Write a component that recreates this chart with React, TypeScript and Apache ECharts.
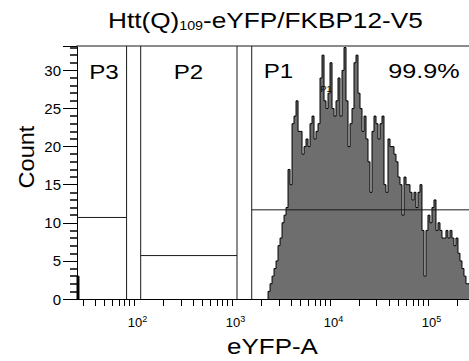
import React, { useEffect, useRef } from "react";
import * as echarts from "echarts";

const FONT = "'Liberation Sans', Arial, Helvetica, sans-serif";

// Texts
const titleMain = "Htt(Q)";
const titleSub = "109";
const titleRest = "-eYFP/FKBP12-V5";
const xName = "eYFP-A";
const yName = "Count";

// Axis ranges (eYFP-A shown on a log10 scale)
const xMinValue = 26.2;
const xMaxValue = 262144;
const yMax = 33.2;
const yMajorStep = 5;
const yMinorSplits = 5;
const xLabelDecades = [2, 3, 4, 5];
const xTickDecades = [1, 2, 3, 4, 5];
const xTickMultipliers = [1, 2, 3, 4, 5, 6, 7, 8, 9];

// Histogram (counts per bin, bins equal width in decades)
const histStartValue = 2333;
const histBinDecades = 0.0204;
const histCounts = [
  1, 2, 3, 4, 5, 7, 8, 10, 11, 12,
  17, 15, 23, 24, 26, 22, 22, 19, 20, 21,
  20, 23, 24, 21, 22, 23, 29, 32, 26, 25,
  27, 31, 25, 24, 26, 29, 24, 30, 33, 26,
  20, 23, 25, 31, 32, 27, 25, 22, 24, 21,
  18, 14, 22, 24, 23, 21, 23, 24, 15, 14,
  21, 20, 20, 19, 18, 16, 15, 11, 16, 15,
  15, 14, 13, 14, 12, 14, 15, 9, 3, 9,
  11, 10, 12, 13, 9, 10, 9, 8, 8, 9,
  8, 9, 8, 7, 8, 6, 5, 4, 3, 2,
  2, 1,
];
// events piled at the axis minimum
const pileStartValue = 26.2;
const pileCounts = [3];

// Gates
const gateNames = ["P3", "P2", "P1"];
const gateLeft = [26.2, 117, 1590];
const gateRight = [84, 1125, 262144];
const gateLevel = [10.7, 5.7, 11.7];
const p1Share = "99.9%";

const xMin = Math.log10(xMinValue);
const xMax = Math.log10(xMaxValue);

function stepPoints(startLog: number, width: number, counts: number[]) {
  const pts: number[][] = [[startLog, 0]];
  counts.forEach((c, i) => {
    const x0 = startLog + i * width;
    pts.push([x0, c], [x0 + width, c]);
  });
  pts.push([startLog + counts.length * width, 0]);
  return pts;
}

const CHART_W = 469;
const CHART_H = 361;

export default function App() {
  const ref = useRef<HTMLDivElement>(null);
  useEffect(() => {
    if (!ref.current) return;
    const chart = echarts.init(ref.current, undefined, { renderer: "svg" });

    const tickLogs: number[] = [];
    xTickDecades.forEach((d) =>
      xTickMultipliers.forEach((m) => {
        const v = Math.log10(m * Math.pow(10, d));
        if (v >= xMin && v <= xMax) tickLogs.push(v);
      })
    );

    const histSeries = {
      type: "line",
      data: stepPoints(Math.log10(histStartValue), histBinDecades, histCounts),
      showSymbol: false,
      symbol: "none",
      lineStyle: { color: "#000", width: 1 },
      areaStyle: { color: "#6e6e6e", opacity: 1 },
      z: 2,
      silent: true,
      clip: true,
    };
    const pileSeries = {
      type: "line",
      data: stepPoints(Math.log10(pileStartValue), histBinDecades, pileCounts),
      showSymbol: false,
      symbol: "none",
      lineStyle: { color: "#000", width: 1 },
      areaStyle: { color: "#000", opacity: 1 },
      z: 2,
      silent: true,
      clip: true,
    };

    const gateSeries: any[] = [];
    gateNames.forEach((name, i) => {
      const l = Math.log10(gateLeft[i]);
      const r = Math.log10(gateRight[i]);
      const segs: number[][][] = [[[l, gateLevel[i]], [r, gateLevel[i]]]];
      if (l > xMin + 1e-6) segs.push([[l, 0], [l, yMax]]);
      if (r < xMax - 1e-6) segs.push([[r, 0], [r, yMax]]);
      segs.forEach((seg) =>
        gateSeries.push({
          type: "line",
          name,
          data: seg,
          showSymbol: false,
          symbol: "none",
          lineStyle: { color: "#1a1a1a", width: 1 },
          z: 5,
          silent: true,
          clip: true,
        })
      );
    });

    const txt = (text: string, x: number, y: number, size: number, sx: number, extra: any = {}) => ({
      type: "text",
      x,
      y,
      scaleX: sx,
      z: 100,
      style: {
        text,
        fontSize: size,
        fontFamily: FONT,
        fill: "#000",
        align: "center",
        verticalAlign: "middle",
        textAlign: "center",
        textVerticalAlign: "middle",
        ...extra,
      },
    });

    chart.setOption({
      animation: false,
      textStyle: { fontFamily: FONT },
      grid: { left: 77, right: 0, top: 46, bottom: 62, containLabel: false, outerBoundsMode: "none" },
      xAxis: [
        {
          type: "value",
          min: xMin,
          max: xMax,
          position: "bottom",
          axisLine: { show: true, onZero: false, lineStyle: { color: "#000", width: 1 } },
          axisTick: { show: true, length: 7, customValues: tickLogs, lineStyle: { color: "#000" } },
          axisLabel: {
            show: true,
            customValues: xLabelDecades,
            margin: 15,
            padding: [0, 0, 0, 7],
            formatter: (v: number) => `{b|10}{s|${Math.round(v)}}`,
            rich: {
              b: { fontSize: 13, lineHeight: 16, fontFamily: FONT, color: "#000" },
              s: { fontSize: 9, lineHeight: 9, verticalAlign: "top", fontFamily: FONT, color: "#000" },
            },
          },
          splitLine: { show: false },
        },
        {
          type: "value",
          min: xMin,
          max: xMax,
          position: "top",
          axisLine: { show: true, onZero: false, lineStyle: { color: "#666", width: 1.5 } },
          axisTick: { show: false },
          axisLabel: { show: false },
          splitLine: { show: false },
        },
      ],
      yAxis: {
        type: "value",
        min: 0,
        max: yMax,
        interval: yMajorStep,
        position: "left",
        axisLine: { show: true, onZero: false, lineStyle: { color: "#000", width: 1 } },
        axisTick: { show: true, length: 14, lineStyle: { color: "#000", width: 1 } },
        minorTick: { show: true, splitNumber: yMinorSplits, length: 7, lineStyle: { color: "#000", width: 1.5 } },
        axisLabel: { show: true, margin: 16, fontSize: 15, color: "#000", fontFamily: FONT, showMaxLabel: false },
        splitLine: { show: false },
        minorSplitLine: { show: false },
      },
      series: [histSeries, pileSeries, ...gateSeries],
      graphic: [
        {
          type: "text",
          x: 108,
          y: 8,
          scaleX: 1.19,
          z: 100,
          style: {
            text: `{m|${titleMain}}{sub|${titleSub}}{m|${titleRest}}`,
            fill: "#000",
            align: "left",
            verticalAlign: "top",
            textAlign: "left",
            textVerticalAlign: "top",
            rich: {
              m: { fontSize: 22, lineHeight: 24, fontFamily: FONT, fill: "#000" },
              sub: { fontSize: 12, lineHeight: 8, verticalAlign: "bottom", fontFamily: FONT, fill: "#000" },
            },
          },
        },
        txt(xName, 272.5, 346, 22, 1.18),
        { ...txt(yName, 26, 157, 22, 1.07), rotation: Math.PI / 2 },
        txt(gateNames[0], 104, 72, 21, 1.15),
        txt(gateNames[1], 188.5, 72, 21, 1.15),
        txt(gateNames[2], 278.5, 71, 21, 1.15),
        txt(p1Share, 424, 71, 21, 1.2),
        txt(gateNames[2], 326, 89, 9, 1),
      ],
    });
    return () => chart.dispose();
  }, []);

  return (
    <div
      ref={ref}
      style={{ position: "fixed", left: 0, top: 0, width: CHART_W, height: CHART_H, background: "#fff" }}
    />
  );
}
